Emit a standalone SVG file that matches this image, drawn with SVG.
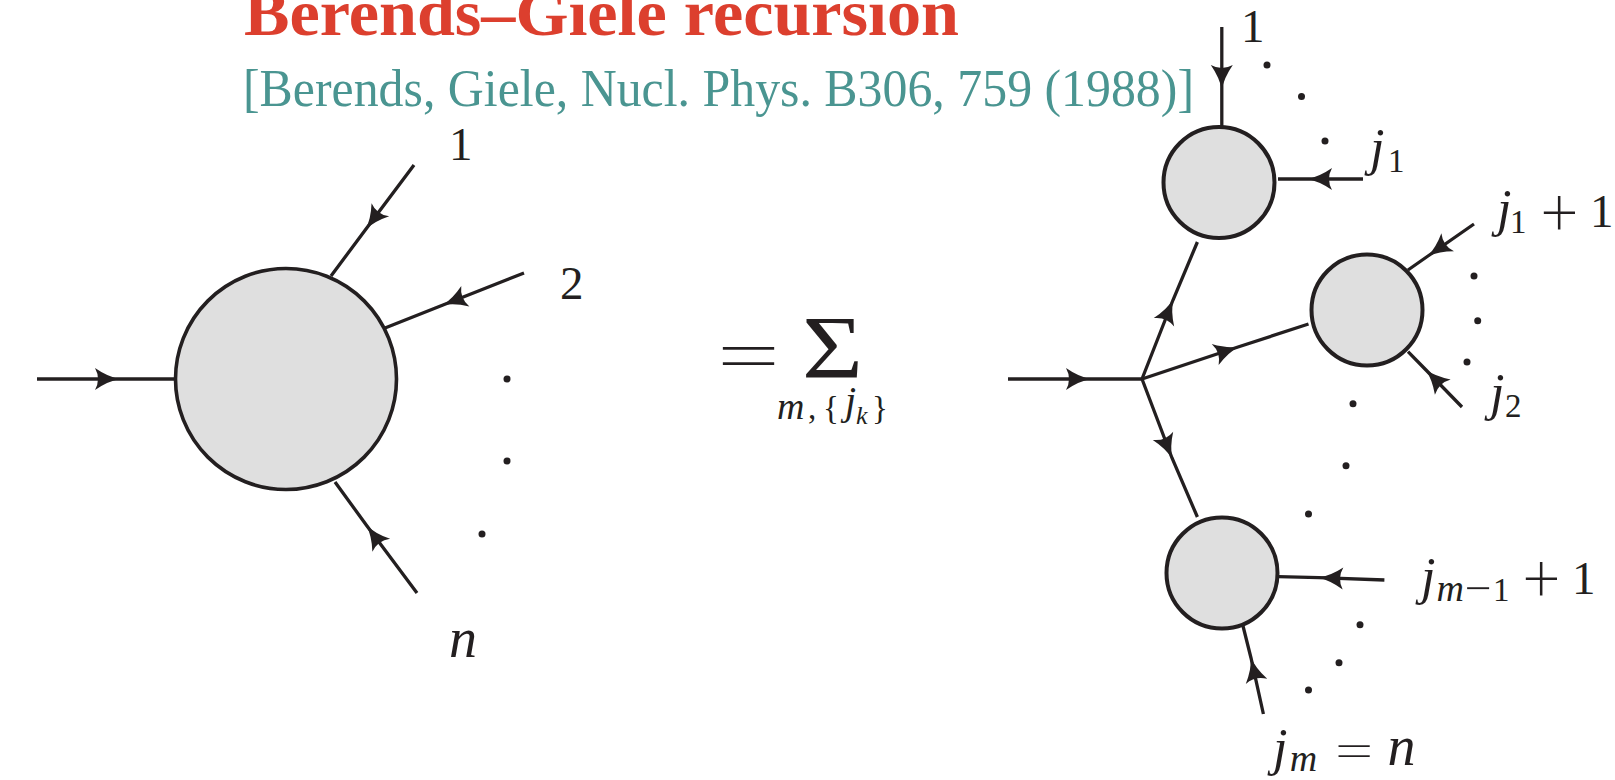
<svg xmlns="http://www.w3.org/2000/svg" width="1615" height="780" viewBox="0 0 1615 780">
<style>
.blob{fill:#dfdfdf;stroke:#231f20;stroke-width:4}
.line{fill:none;stroke:#231f20;stroke-width:3.3;marker-mid:url(#head)}
.dot{fill:#231f20}
text{font-family:"Liberation Serif",serif;fill:#231f20}
.t{font-size:47px}
.i{font-size:52px;font-style:italic}
.n{font-size:56px;font-style:italic}
.s{font-size:33px}
.si{font-size:38px;font-style:italic}
.op{font-family:"Roboto",sans-serif;font-weight:200;font-size:64px}
</style>
<defs>
<marker id="head" markerUnits="userSpaceOnUse" markerWidth="30" markerHeight="28" refX="26" refY="14" orient="auto" overflow="visible">
<path d="M27 14Q15 12 2 3Q8 14 2 25Q15 16 27 14Z" fill="#231f20"/>
</marker>
</defs>
<g id="title">
<text x="244" y="35" font-size="66" font-weight="700" style="fill:#dc3f2e" textLength="715" lengthAdjust="spacingAndGlyphs">Berends–Giele recursion</text>
<text x="243" y="106" font-size="52" style="fill:#4a9591" textLength="951" lengthAdjust="spacingAndGlyphs">[Berends, Giele, Nucl. Phys. B306, 759 (1988)]</text>
</g>
<g id="connectors">
<path class="line" d="M37 379L119 379L175 379"/>
<path class="line" d="M414 165L366 229L331 276"/>
<path class="line" d="M524 273L443 305L385 328"/>
<path class="line" d="M417 593L367 526L335 482"/>
<path class="line" d="M1008 379L1090 379L1142 379"/>
<path class="line" d="M1142 379L1173 300L1197.400 242"/>
<path class="line" d="M1142 379L1238 347L1308.500 324"/>
<path class="line" d="M1142 379L1172 458L1197.400 517"/>
<path class="line" d="M1221.800 27L1221.800 89L1221.800 127"/>
<path class="line" d="M1363 179L1308 179L1278 179"/>
<path class="line" d="M1474 224L1428 256L1408 270"/>
<path class="line" d="M1462 407L1426 370L1408 351.700"/>
<path class="line" d="M1384.400 580L1319 577.700L1278.400 576.700"/>
<path class="line" d="M1263.400 714L1251 658L1243 626"/>
</g>
<g id="node-blob"><circle class="blob" style="stroke-width:3.600" cx="286" cy="379" r="110.500"/></g>
<g id="node-current-1"><circle class="blob" cx="1219" cy="182.500" r="55.500"/></g>
<g id="node-current-2"><circle class="blob" cx="1367" cy="310" r="55.500"/></g>
<g id="node-current-3"><circle class="blob" cx="1222" cy="573" r="55.500"/></g>
<g id="dots">
<circle class="dot" cx="507" cy="379" r="3.500"/><circle class="dot" cx="507" cy="461" r="3.500"/><circle class="dot" cx="482" cy="534" r="3.500"/>
<circle class="dot" cx="1267" cy="65" r="3.500"/><circle class="dot" cx="1301.500" cy="96.500" r="3.500"/><circle class="dot" cx="1325" cy="141" r="3.500"/>
<circle class="dot" cx="1474" cy="276" r="3.500"/><circle class="dot" cx="1477.700" cy="320.700" r="3.500"/><circle class="dot" cx="1467" cy="362" r="3.500"/>
<circle class="dot" cx="1353" cy="403.700" r="3.500"/><circle class="dot" cx="1346" cy="465.700" r="3.500"/><circle class="dot" cx="1308.500" cy="514" r="3.500"/>
<circle class="dot" cx="1360" cy="624.700" r="3.500"/><circle class="dot" cx="1339" cy="662.700" r="3.500"/><circle class="dot" cx="1308.500" cy="690" r="3.500"/>
</g>
<g id="labels">
<text class="t" x="449" y="160">1</text>
<text class="t" x="560" y="299">2</text>
<text class="n" x="449" y="657">n</text>
<text class="t" x="1241" y="42">1</text>
<text class="i" x="1370" y="165">j</text><text class="s" x="1388" y="172">1</text>
<text class="i" x="1497" y="226">j</text><text class="s" x="1510" y="233">1</text><text class="op" x="1541.500" y="234">+</text><text class="t" x="1590" y="227">1</text>
<text class="i" x="1490" y="410">j</text><text class="s" x="1505" y="417">2</text>
<text class="i" x="1421" y="594">j</text><text class="si" x="1436.500" y="601">m</text><text class="op" x="1463" y="608" style="font-size:54px">−</text><text class="s" x="1493" y="601">1</text><text class="op" x="1523.500" y="600">+</text><text class="t" x="1572" y="594">1</text>
<text class="i" x="1273" y="765">j</text><text class="si" x="1289.700" y="771">m</text><text class="op" x="1333" y="768" style="font-size:50px" textLength="42.600" lengthAdjust="spacingAndGlyphs">=</text><text class="n" x="1387.500" y="765">n</text>
</g>
<g id="sum">
<text class="op" x="713.700" y="381" style="font-size:78px" textLength="70" lengthAdjust="spacingAndGlyphs">=</text>
<text x="802" y="377" font-size="88" textLength="61" lengthAdjust="spacingAndGlyphs">Σ</text>
<text class="si" x="777" y="419">m</text>
<text class="s" x="808" y="419">,</text>
<text class="s" x="823" y="419">{</text>
<text class="si" x="845" y="414" style="font-size:40px">j</text>
<text class="si" x="856" y="424" style="font-size:26px">k</text>
<text class="s" x="872" y="419">}</text>
</g>
</svg>
